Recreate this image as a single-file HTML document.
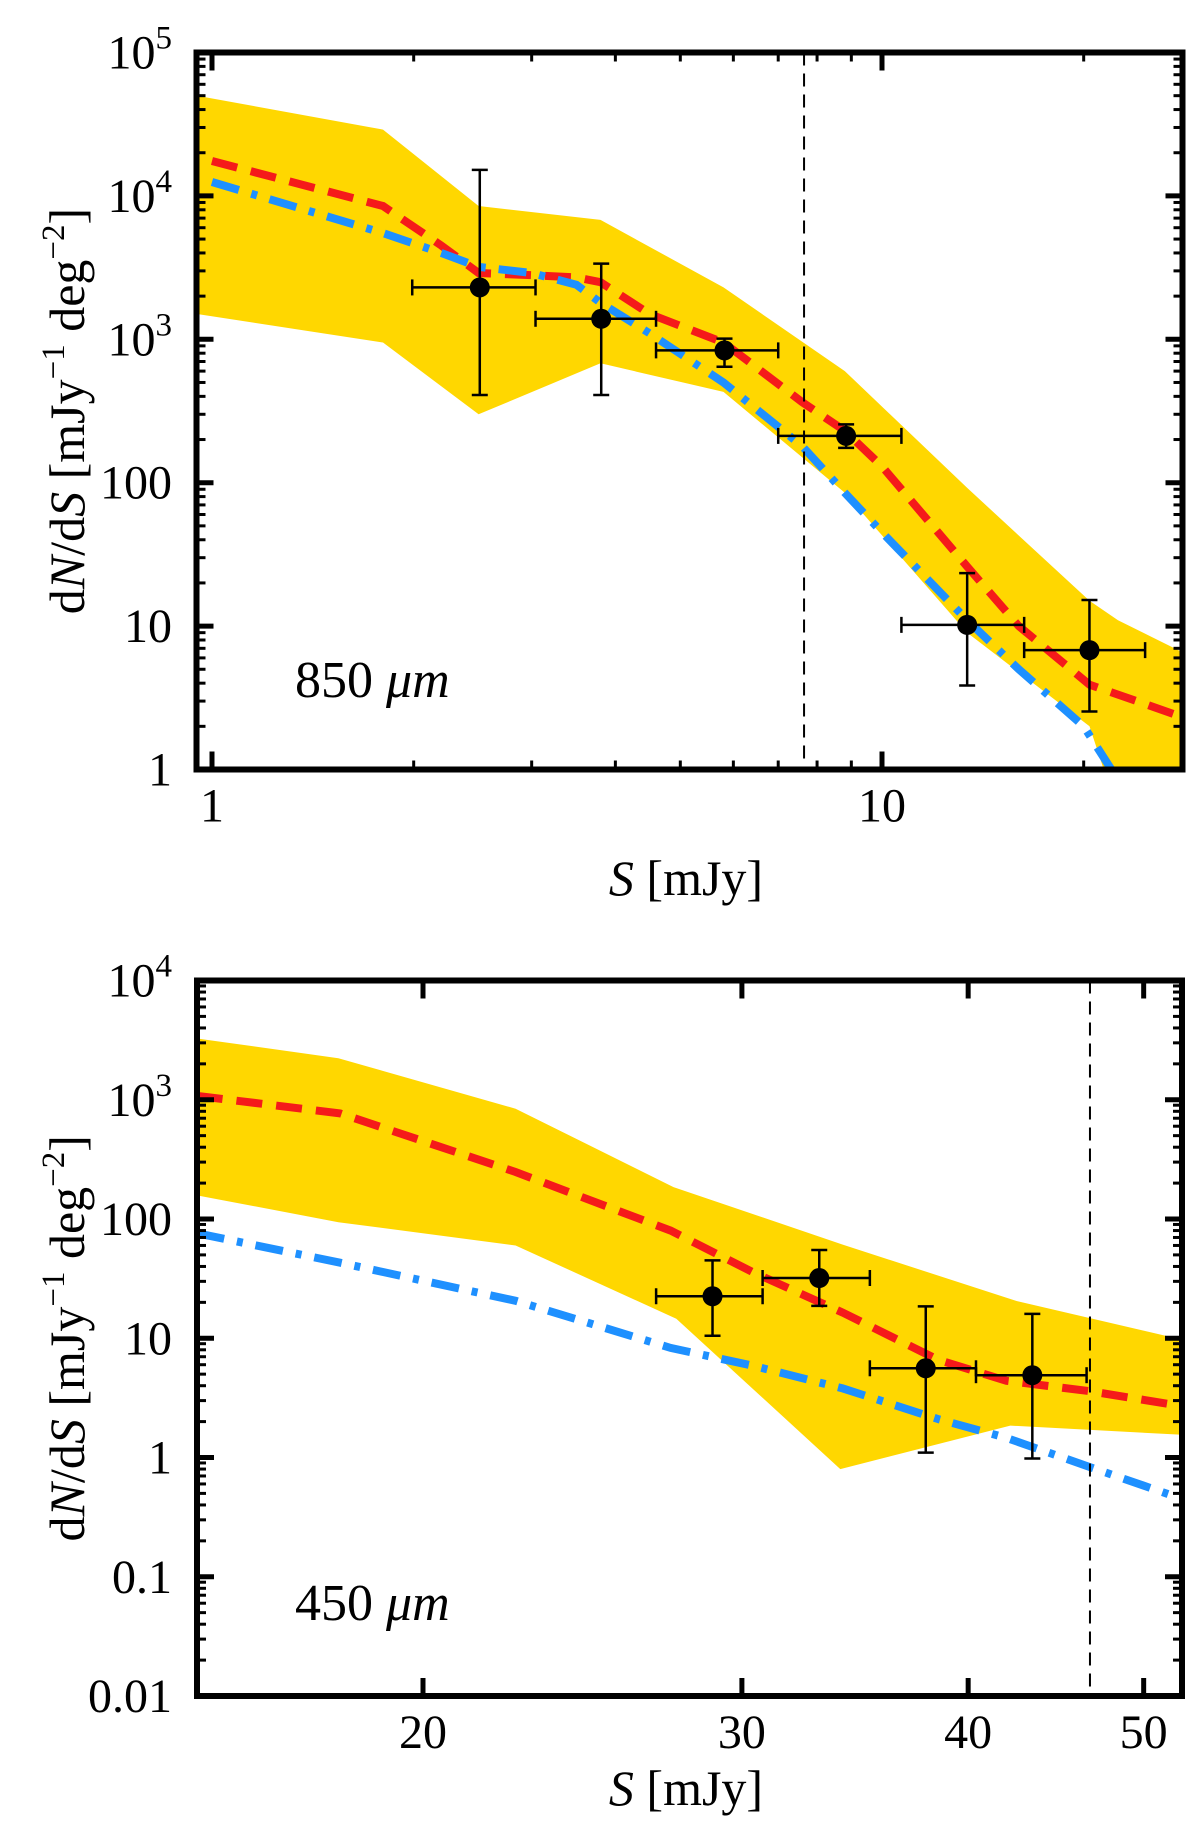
<!DOCTYPE html>
<html><head><meta charset="utf-8">
<style>
html,body{margin:0;padding:0;background:#fff;}
svg{display:block;}
svg text{font-family:"Liberation Serif","DejaVu Serif",serif;}
</style></head>
<body>
<svg id="fig" width="1200" height="1843" viewBox="0 0 1200 1843" xmlns="http://www.w3.org/2000/svg" font-family="Liberation Serif, serif">
<defs>
<clipPath id="clipTop"><rect x="196.5" y="52.5" width="986" height="717"/></clipPath>
<clipPath id="clipBot"><rect x="197" y="980.5" width="985" height="715.5"/></clipPath>
</defs>
<g id="top"></g>
<g id="bot"></g>
</svg>
<script>
// ---------- 850 micron data ----------
const top_bandX = [0.95, 1.8, 2.5, 3.8, 5.8, 8.8, 13.4, 20.4, 22.5, 28.2];
const top_bandUpper = [50000, 29000, 8500, 6800, 2300, 600, 92, 15, 11, 6.5];
const top_bandLower = [1500, 950, 300, 680, 430, 85, 9, 2.0, 0.5, 0.05];
const top_redX = [1.0, 1.8, 2.2, 2.5, 3.0, 3.5, 3.8, 4.5, 5.8, 7.6, 8.8, 10, 13.4, 16, 20.4, 24, 28.2];
const top_redY = [17500, 8500, 4500, 2900, 2800, 2700, 2500, 1500, 950, 365, 230, 130, 26, 10, 3.9, 3.0, 2.3];
const top_blueX = [1.0, 1.8, 2.2, 2.5, 3.0, 3.5, 3.8, 4.5, 5.8, 7.6, 8.8, 10, 13.4, 16, 20, 22, 24];
const top_blueY = [12500, 5500, 4000, 3200, 2900, 2400, 1800, 1100, 500, 180, 85, 45, 11, 5, 2.0, 1.0, 0.5];
const top_ptX = [2.51, 3.81, 5.82, 8.84, 13.4, 20.4];
const top_ptY = [2300, 1390, 837, 212, 10.2, 6.8];
const top_ptXlo = [1.99, 3.04, 4.60, 7.0, 10.69, 16.3];
const top_ptXhi = [3.04, 4.60, 7.0, 10.69, 16.3, 24.7];
const top_ptYlo = [409, 409, 643, 175, 3.85, 2.54];
const top_ptYhi = [15200, 3370, 1010, 255, 23.4, 15.2];
const top_limit = 7.65;
const top_yTicks = [1, 10, 100, 1000, 10000, 100000];
const top_yLabels = ["1", "10", "100", "10^3", "10^4", "10^5"];
const top_xTicks = [1, 10];
const top_xLabels = ["1", "10"];

// ---------- 450 micron data ----------
const bot_bandX = [15.0, 17.96, 22.5, 27.5, 34.1, 42.5, 52.5];
const bot_bandUpper = [3270, 2230, 841, 185, 61, 20.6, 9.75];
const bot_bandLowerX = [15.0, 17.96, 22.5, 27.6, 34.0, 42.2, 52.5];
const bot_bandLower = [158, 94, 60, 14.6, 0.8, 1.85, 1.55];
const bot_redX = [15.0, 18.0, 22.5, 27.4, 30.4, 34.1, 38.5, 42.0, 46.7, 52.5];
const bot_redY = [1080, 769, 248, 80, 36, 16.4, 6.6, 4.4, 3.6, 2.7];
const bot_blueX = [15.0, 18.0, 22.5, 27.4, 30.4, 34.1, 38.5, 42.0, 46.7, 52.5];
const bot_blueY = [76, 43, 20.6, 8.3, 5.9, 3.8, 2.1, 1.46, 0.83, 0.45];
const bot_ptX = [28.9, 33.1, 37.9, 43.4];
const bot_ptY = [22.5, 32, 5.6, 4.9];
const bot_ptXlo = [26.9, 30.8, 35.3, 40.4];
const bot_ptXhi = [30.8, 35.3, 40.4, 46.5];
const bot_ptYlo = [10.5, 18.7, 1.1, 0.98];
const bot_ptYhi = [45, 55, 18.5, 16];
const bot_limit = 46.7;
const bot_yTicks = [0.01, 0.1, 1, 10, 100, 1000, 10000];
const bot_yLabels = ["0.01", "0.1", "1", "10", "100", "10^3", "10^4"];
const bot_xTicks = [20, 30, 40, 50];
const bot_xLabels = ["20", "30", "40", "50"];

const NS = "http://www.w3.org/2000/svg";
const FF = '"Liberation Serif", serif';
function mk(tag, attrs, parent){const e=document.createElementNS(NS,tag);for(const k in attrs)e.setAttribute(k,attrs[k]);if(tag==='text')e.setAttribute('font-family',FF);parent.appendChild(e);return e;}
const L = Math.log10;

function drawPanel(g, P){
  const {xs, ys, x0, x1, y0, y1, clip} = P;
  const plot = mk('g', {'clip-path':'url(#'+clip+')'}, g);
  
  
  let pts = [];
  P.bandX.forEach((x,i)=>pts.push(xs(x).toFixed(1)+','+ys(P.bandU[i]).toFixed(1)));
  for(let i=P.bandLX.length-1;i>=0;i--) pts.push(xs(P.bandLX[i]).toFixed(1)+','+ys(P.bandL[i]).toFixed(1));
  const band = mk('polygon', {points:pts.join(' '), fill:'#ffd700', stroke:'none'}, plot);
  
  
  const red = mk('polyline', {points:P.redX.map((x,i)=>xs(x).toFixed(1)+','+ys(P.redY[i]).toFixed(1)).join(' '), fill:'none', stroke:'#f51a1a', 'stroke-width':8, 'stroke-dasharray':'26 14'}, plot);
  
  
  const blue = mk('polyline', {points:P.blueX.map((x,i)=>xs(x).toFixed(1)+','+ys(P.blueY[i]).toFixed(1)).join(' '), fill:'none', stroke:'#1e90ff', 'stroke-width':8, 'stroke-dasharray':'28 13 6 13'}, plot);
  
  
  const lim = mk('line', {x1:xs(P.limit), x2:xs(P.limit), y1:y0, y2:y1, stroke:'#000', 'stroke-width':2, 'stroke-dasharray':'13 8'}, plot);
  
  
  P.ptX.forEach((x,i)=>{
    const pg = mk('g', {}, plot);
    
    
    const cx = xs(x), cy = ys(P.ptY[i]);
    const xl = xs(P.ptXlo[i]), xh = xs(P.ptXhi[i]), yl = ys(P.ptYlo[i]), yh = ys(P.ptYhi[i]);
    const w = 2.5;
    mk('line', {x1:xl, x2:xh, y1:cy, y2:cy, stroke:'#000', 'stroke-width':w}, pg);
    mk('line', {x1:cx, x2:cx, y1:yl, y2:yh, stroke:'#000', 'stroke-width':w}, pg);
    mk('line', {x1:xl, x2:xl, y1:cy-8, y2:cy+8, stroke:'#000', 'stroke-width':w}, pg);
    mk('line', {x1:xh, x2:xh, y1:cy-8, y2:cy+8, stroke:'#000', 'stroke-width':w}, pg);
    mk('line', {x1:cx-8, x2:cx+8, y1:yl, y2:yl, stroke:'#000', 'stroke-width':w}, pg);
    mk('line', {x1:cx-8, x2:cx+8, y1:yh, y2:yh, stroke:'#000', 'stroke-width':w}, pg);
    mk('circle', {cx:cx, cy:cy, r:10, fill:'#000'}, pg);
  });
  const tk = mk('g', {stroke:'#000'}, g);
  
  
  P.yTicks.forEach((v,i)=>{
    const y = ys(v);
    mk('line', {x1:x0, x2:x0+17, y1:y, y2:y, 'stroke-width':5}, tk);
    mk('line', {x1:x1, x2:x1-17, y1:y, y2:y, 'stroke-width':5}, tk);
    if(i < P.yTicks.length-1){
      for(let m=2;m<=9;m++){
        const yy = ys(v*m);
        mk('line', {x1:x0, x2:x0+9, y1:yy, y2:yy, 'stroke-width':3}, tk);
        mk('line', {x1:x1, x2:x1-9, y1:yy, y2:yy, 'stroke-width':3}, tk);
      }
    }
  });
  P.xTicks.forEach(v=>{
    const x = xs(v);
    mk('line', {x1:x, x2:x, y1:y1, y2:y1-18, 'stroke-width':5}, tk);
    mk('line', {x1:x, x2:x, y1:y0, y2:y0+18, 'stroke-width':5}, tk);
  });
  (P.xMinor||[]).forEach(v=>{
    const x = xs(v);
    mk('line', {x1:x, x2:x, y1:y1, y2:y1-9, 'stroke-width':3}, tk);
    mk('line', {x1:x, x2:x, y1:y0, y2:y0+9, 'stroke-width':3}, tk);
  });
  const fr = mk('rect', {x:x0, y:y0, width:x1-x0, height:y1-y0, fill:'none', stroke:'#000', 'stroke-width':6}, g);
  
  
  P.yTicks.forEach((v,i)=>{
    const lab = P.yLabels[i];
    const t = mk('text', {x:172, y:ys(v)+16, 'font-size':48, 'text-anchor':'end', fill:'#000'}, g);
    
    
    if(lab.indexOf('^')>=0){
      const [b,e] = lab.split('^');
      mk('tspan', {}, t).textContent = b;
      const s = mk('tspan', {'font-size':33, dy:-20}, t); s.textContent = e;
    } else t.textContent = lab;
  });
  P.xTicks.forEach((v,i)=>{
    const t = mk('text', {x:xs(v), y:y1+52, 'font-size':48, 'text-anchor':'middle', fill:'#000'}, g);
    
    
    t.textContent = P.xLabels[i];
  });
  const xt = mk('text', {x:686, y:P.xTitleY, 'font-size':50, 'text-anchor':'middle', fill:'#000'}, g);
  
  
  mk('tspan', {'font-style':'italic'}, xt).textContent = 'S';
  mk('tspan', {}, xt).textContent = ' [mJy]';
  const cy = (y0+y1)/2;
  const yt = mk('text', {x:0, y:0, 'font-size':50, 'text-anchor':'middle', fill:'#000', transform:'translate(84,'+cy+') rotate(-90)'}, g);
  
  
  mk('tspan', {}, yt).textContent = 'd';
  mk('tspan', {'font-style':'italic'}, yt).textContent = 'N';
  mk('tspan', {}, yt).textContent = '/d';
  mk('tspan', {'font-style':'italic'}, yt).textContent = 'S';
  mk('tspan', {}, yt).textContent = ' [mJy';
  mk('tspan', {'font-size':33, dy:-20}, yt).textContent = '\u22121';
  mk('tspan', {dy:20}, yt).textContent = ' deg';
  mk('tspan', {'font-size':33, dy:-20}, yt).textContent = '\u22122';
  mk('tspan', {dy:20}, yt).textContent = ']';
  const pl = mk('text', {x:295, y:P.labelY, 'font-size':52, fill:'#000'}, g);
  
  
  mk('tspan', {}, pl).textContent = P.label + ' ';
  mk('tspan', {'font-style':'italic'}, pl).textContent = '\u03bcm';
}

drawPanel(document.getElementById('top'), {
  xs: s => 212 + 670*L(s), ys: v => 769.5 - 143.4*L(v),
  x0:196.5, x1:1182.5, y0:52.5, y1:769.5, clip:'clipTop',
  bandX: top_bandX, bandU: top_bandUpper, bandLX: top_bandX, bandL: top_bandLower,
  redX: top_redX, redY: top_redY, blueX: top_blueX, blueY: top_blueY,
  ptX: top_ptX, ptY: top_ptY, ptXlo: top_ptXlo, ptXhi: top_ptXhi, ptYlo: top_ptYlo, ptYhi: top_ptYhi,
  limit: top_limit, yTicks: top_yTicks, yLabels: top_yLabels, xTicks: top_xTicks, xLabels: top_xLabels,
  xMinor: [2,3,4,5,6,7,8,9,20], xTitleY: 895, labelY: 697, label: '850'
});
drawPanel(document.getElementById('bot'), {
  xs: s => 423 + 1811*L(s/20), ys: v => 1696 - 119.25*(L(v)+2),
  x0:197, x1:1182, y0:980.5, y1:1696, clip:'clipBot',
  bandX: bot_bandX, bandU: bot_bandUpper, bandLX: bot_bandLowerX, bandL: bot_bandLower,
  redX: bot_redX, redY: bot_redY, blueX: bot_blueX, blueY: bot_blueY,
  ptX: bot_ptX, ptY: bot_ptY, ptXlo: bot_ptXlo, ptXhi: bot_ptXhi, ptYlo: bot_ptYlo, ptYhi: bot_ptYhi,
  limit: bot_limit, yTicks: bot_yTicks, yLabels: bot_yLabels, xTicks: bot_xTicks, xLabels: bot_xLabels,
  xMinor: [], xTitleY: 1805, labelY: 1620, label: '450'
});
</script>
</body></html>
